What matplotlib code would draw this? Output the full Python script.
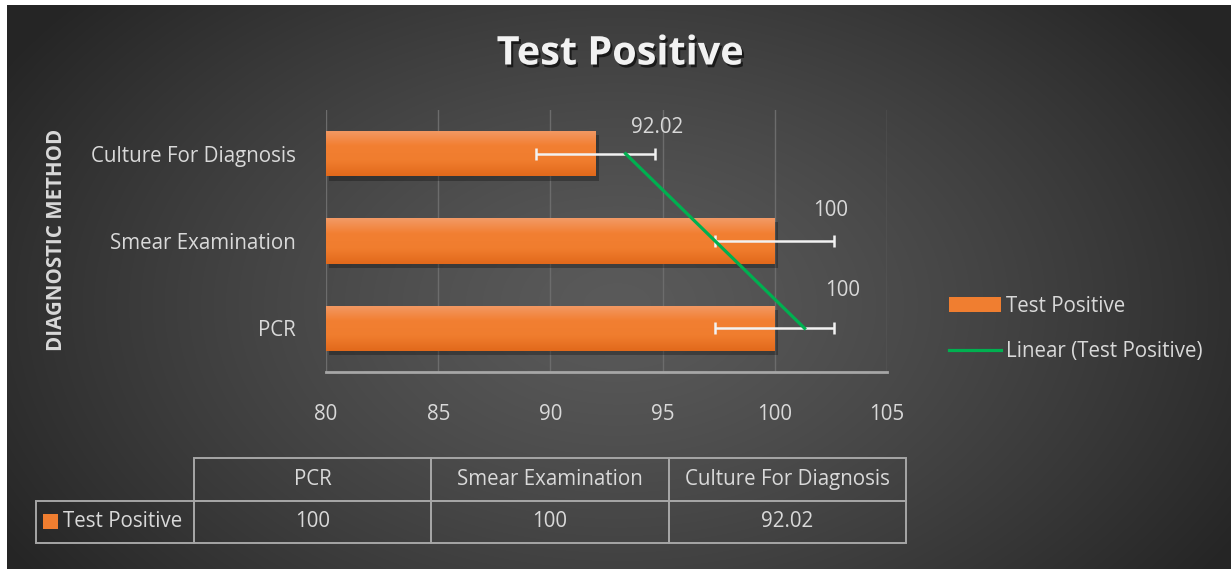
import numpy as np
import matplotlib
matplotlib.use("Agg")
import matplotlib.pyplot as plt
import matplotlib.patheffects as pe
from matplotlib.patches import Patch, Rectangle
from matplotlib.lines import Line2D
from matplotlib.colors import LinearSegmentedColormap

plt.rcParams['font.family'] = ['Open Sans', 'DejaVu Sans']

# data
methods = ["PCR", "Smear Examination", "Culture For Diagnosis"]
test_positive = [100, 100, 92.02]
std_err = [2.66, 2.66, 2.66]
value_labels = ["100", "100", "92.02"]
x_ticks = [80, 85, 90, 95, 100, 105]

TXT = "#d9d9d9"
ORANGE = "#f07e30"
GREEN = "#00b050"
FS = 14.8
W, H = 1231, 569

fig = plt.figure(figsize=(W / 100, H / 100), dpi=100, facecolor="white")

# dark radial background (white strip on top/left like the screenshot)
bg = fig.add_axes([7 / W, 0, (W - 7) / W, (H - 5) / H], zorder=-10)
yy, xx = np.mgrid[0:H - 5, 0:W - 7]
r = np.sqrt(((xx - 610) / 720.0) ** 2 + ((yy - 300) / 470.0) ** 2)
r = np.clip(r, 0, 1)
shade = 0x5a / 255 - (0x5a - 0x25) / 255 * r ** 1.3
bg.imshow(np.dstack([shade] * 3), aspect="auto", interpolation="bilinear")
bg.axis("off")

# main bar chart
ax = fig.add_axes([326 / W, 1 - 372 / H, 561 / W, 262 / H])
ax.set_facecolor("none")
ax.set_xlim(80, 105)
ax.set_ylim(-0.5, 2.5)
pos = np.arange(len(methods))
xmin = ax.get_xlim()[0]

bars = ax.barh(pos, np.array(test_positive) - xmin, height=0.52, left=xmin, color=ORANGE, zorder=2,
               path_effects=[pe.SimplePatchShadow(offset=(2, -3), shadow_rgbFace="black", alpha=0.28),
                             pe.Normal()])
grad_cmap = LinearSegmentedColormap.from_list("o", ["#e2691b", "#f07d2e", "#f27f32", "#f39a66"])
grad = np.linspace(0, 1, 100).reshape(-1, 1)
for b in bars:
    x0, y0 = b.get_x(), b.get_y()
    im = ax.imshow(grad, extent=[x0, x0 + b.get_width(), y0, y0 + b.get_height()],
                   origin="lower", aspect="auto", cmap=grad_cmap, zorder=2.1)
    im.set_clip_path(b)

ax.errorbar(test_positive, pos, xerr=std_err, fmt="none", ecolor="#f2f2f2",
            elinewidth=1.8, capsize=4, capthick=1.8, zorder=3)

# linear trendline (Excel style: value vs category index)
coef = np.polyfit(pos + 1, test_positive, 1)
trend = np.polyval(coef, pos + 1)
ax.plot(trend, pos, color=GREEN, lw=2.3, zorder=4)

label_offsets = [(8, 38), (-4, 30), (2, 26)]
for i, (v, e, t) in enumerate(zip(test_positive, std_err, value_labels)):
    ax.annotate(t, (v + e, pos[i]), xytext=label_offsets[i], textcoords="offset pixels",
                ha="center", va="center", color=TXT, fontsize=FS, zorder=5)

ax.set_xlim(80, 105)
ax.set_ylim(-0.5, 2.5)
ax.set_xticks(x_ticks)
ax.set_yticks(pos)
ax.set_yticklabels(methods)
ax.tick_params(axis="both", length=0, colors=TXT, labelsize=FS)
ax.tick_params(axis="x", pad=23)
ax.tick_params(axis="y", pad=22)
ax.grid(axis="x", color="#6c6c6c", lw=1)
ax.set_axisbelow(True)
for s in ["top", "right", "left"]:
    ax.spines[s].set_visible(False)
ax.spines["bottom"].set_color("#a6a6a6")
ax.spines["bottom"].set_linewidth(2)

fig.text(620 / W, 1 - 54 / H, "Test Positive", ha="center", va="center", fontsize=28.5,
         fontweight="bold", color="#f2f2f2",
         path_effects=[pe.withSimplePatchShadow(offset=(1.5, -2), shadow_rgbFace="black", alpha=0.6)])
fig.text(57 / W, 1 - 240 / H, "DIAGNOSTIC METHOD", rotation=90, ha="center", va="center",
         fontsize=14.8, fontweight="bold", color=TXT)

handles = [Patch(facecolor=ORANGE, edgecolor="none"), Line2D([], [], color=GREEN, lw=2.3)]
fig.legend(handles, ["Test Positive", "Linear (Test Positive)"], loc="center left",
           bbox_to_anchor=(930 / W, 1 - 329 / H), frameon=False, fontsize=FS,
           labelcolor=TXT, handlelength=2.53, handleheight=0.68, handletextpad=0.27,
           labelspacing=1.2)

# data table below the chart
tab_ax = fig.add_axes([36 / W, 1 - 543 / H, 870 / W, 85 / H])
tab_ax.axis("off")
tab = tab_ax.table(cellText=[["Test Positive"] + value_labels], colLabels=[""] + methods,
                   colWidths=[158, 237, 237, 237], cellLoc="center", bbox=[0, 0, 1, 1])
tab.auto_set_font_size(False)
tab.set_fontsize(FS)
for (row, col), cell in tab.get_celld().items():
    cell.set_facecolor("none")
    cell.set_edgecolor("#a6a6a6")
    cell.set_linewidth(1.4)
    cell.get_text().set_color(TXT)
    if col == 0:
        if row == 0:
            cell.visible_edges = ""
        else:
            cell.get_text().set_ha("left")
            cell._loc = "left"
            cell.PAD = 0.17
tab_ax.add_patch(Rectangle((0.008, 0.165), 0.017, 0.176, transform=tab_ax.transAxes,
                           facecolor=ORANGE, edgecolor="none"))

fig.savefig("out.png", dpi=100)
